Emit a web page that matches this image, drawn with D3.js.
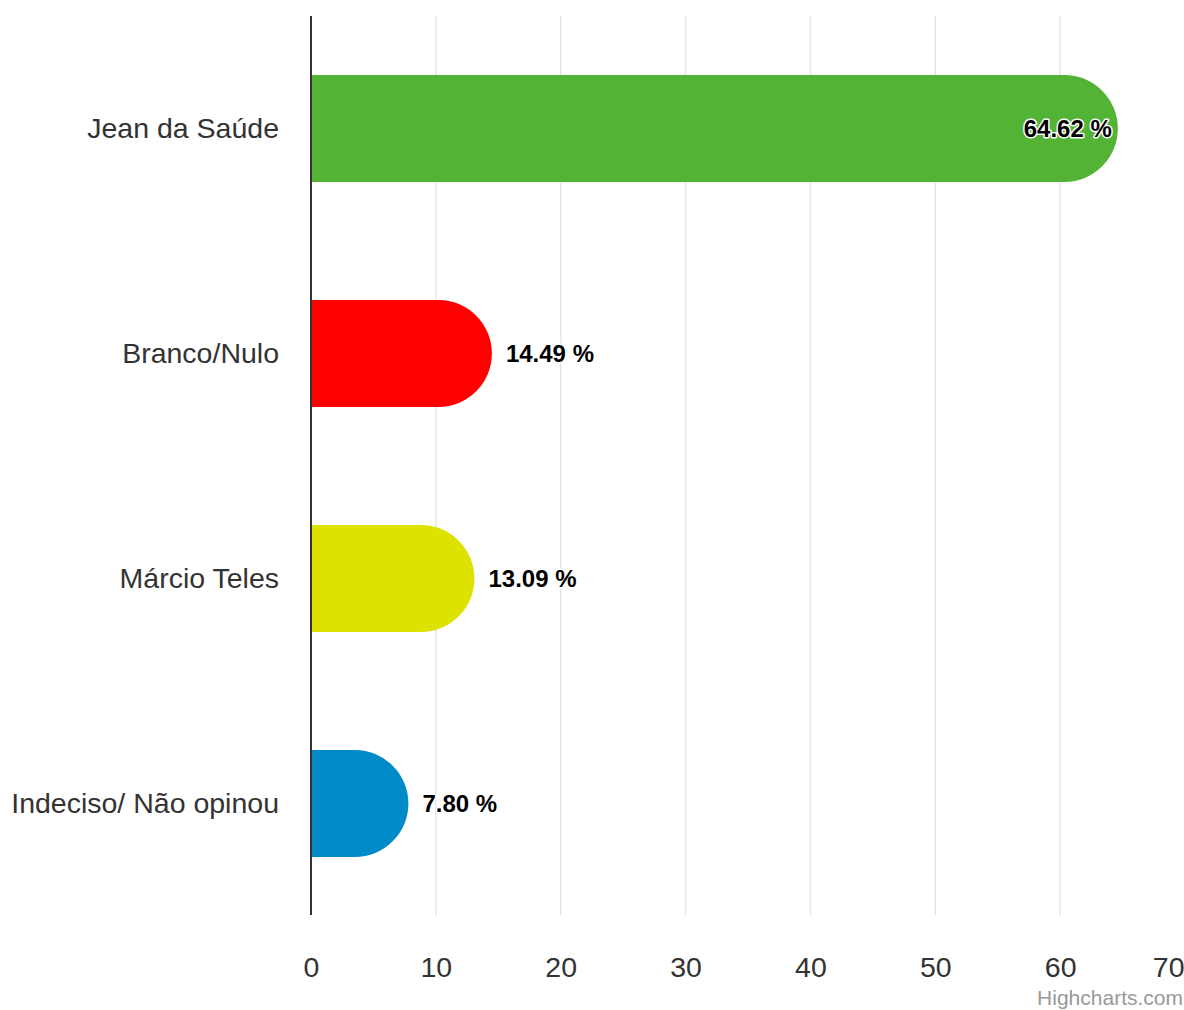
<!DOCTYPE html>
<html>
<head>
<meta charset="utf-8">
<script src="https://cdn.jsdelivr.net/npm/d3@7"></script>
<style>
  html, body { margin: 0; padding: 0; background: #fff; }
  svg { display: block; font-family: "Liberation Sans", Arial, sans-serif; }
</style>
</head>
<body>
<svg id="chart" width="1184" height="1010"></svg>
<script>
const categories = ["Jean da Saúde", "Branco/Nulo", "Márcio Teles", "Indeciso/ Não opinou"];
const values = [64.62, 14.49, 13.09, 7.80];
const colors = ["#52b334", "#ff0000", "#dee200", "#008bc8"];
const tickValues = [0, 10, 20, 30, 40, 50, 60, 70];

const svg = d3.select("#chart");
const plot = { left: 311, right: 1185, top: 16, bottom: 916 };

const x = d3.scaleLinear().domain([0, 70]).range([plot.left, plot.right]);
const y = d3.scaleBand().domain(categories).range([plot.top, plot.bottom])
  .paddingInner(0.524).paddingOuter(0.262);

// gridlines
svg.append("g").selectAll("line").data(tickValues.filter(d => d > 0)).join("line")
  .attr("x1", d => x(d)).attr("x2", d => x(d))
  .attr("y1", plot.top).attr("y2", plot.bottom - 1)
  .attr("stroke", "#e6e6e6").attr("stroke-width", 1.5);

// x-axis tick labels
const xAxis = d3.axisBottom(x).tickValues(tickValues).tickSize(0).tickPadding(0).tickFormat(d3.format("d"));
const gx = svg.append("g").attr("transform", `translate(0, ${plot.bottom})`).call(xAxis);
gx.select(".domain").remove();
gx.selectAll("text")
  .attr("y", 61).attr("dy", null)
  .attr("font-size", 28.5).attr("fill", "#333")
  .attr("font-family", "'Liberation Sans', Arial, sans-serif");
// keep last label inside the frame (justified like the original)
gx.selectAll(".tick").filter(d => d === 70).select("text")
  .attr("text-anchor", "end").attr("x", 1184 - x(70));

// y-axis labels
const yAxis = d3.axisLeft(y).tickSize(0).tickPadding(0);
const gy = svg.append("g").attr("transform", `translate(279, 0)`).call(yAxis);
gy.select(".domain").remove();
gy.selectAll("text")
  .attr("x", 0).attr("dy", "0.35em")
  .attr("font-size", 28.5).attr("fill", "#333")
  .attr("font-family", "'Liberation Sans', Arial, sans-serif");

// bars with rounded right end
const data = categories.map((c, i) => ({ c, v: values[i], color: colors[i] }));
function barPath(d) {
  const x0 = x(0), x1 = x(d.v), y0 = y(d.c), h = y.bandwidth(), r = h / 2;
  return `M${x0},${y0} H${x1 - r} A${r},${r} 0 0 1 ${x1 - r},${y0 + h} H${x0} Z`;
}
svg.append("g").selectAll("path").data(data).join("path")
  .attr("d", barPath).attr("fill", d => d.color);

// axis line
svg.append("line")
  .attr("x1", x(0)).attr("x2", x(0))
  .attr("y1", plot.top).attr("y2", plot.bottom - 1)
  .attr("stroke", "#333").attr("stroke-width", 2);

// data labels
svg.append("g").selectAll("text").data(data).join("text")
  .attr("x", (d, i) => i === 0 ? x(d.v) - 6 : x(d.v) + 14)
  .attr("y", d => y(d.c) + y.bandwidth() / 2)
  .attr("dy", "0.35em")
  .attr("text-anchor", (d, i) => i === 0 ? "end" : "start")
  .attr("font-size", 24).attr("font-weight", "bold").attr("fill", "#000")
  .attr("stroke", "#fff").attr("stroke-width", 3).attr("stroke-linejoin", "round")
  .attr("paint-order", "stroke")
  .text(d => d3.format(".2f")(d.v) + " %");

// credits
svg.append("text")
  .attr("x", 1183).attr("y", 1005).attr("text-anchor", "end")
  .attr("font-size", 21).attr("fill", "#999")
  .text("Highcharts.com");
</script>
</body>
</html>
